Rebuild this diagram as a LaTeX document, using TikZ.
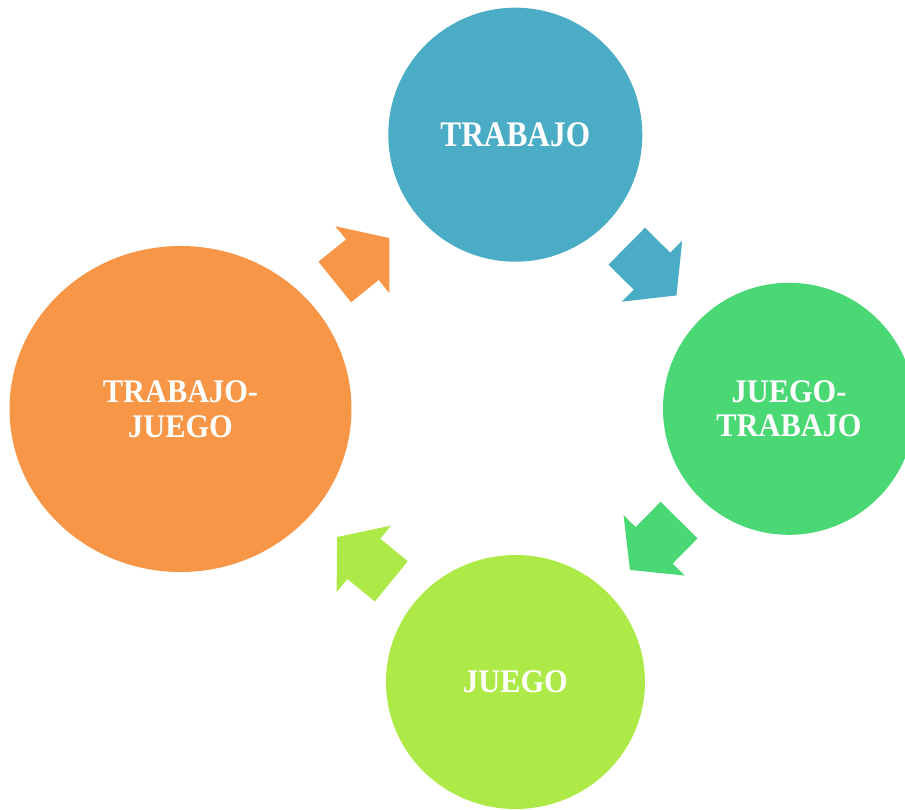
\documentclass[tikz,border=0pt]{standalone}
\usepackage{fontspec}
\usetikzlibrary{shapes.geometric}
\newfontfamily\lblfont[FakeStretch=0.92]{Liberation Serif}
\newfontfamily\lblfonttop[FakeStretch=0.87]{Liberation Serif}
\definecolor{cteal}{HTML}{4BACC6}
\definecolor{cgreen}{HTML}{4AD874}
\definecolor{clime}{HTML}{ADEA48}
\definecolor{corange}{HTML}{F79646}
\newcommand\blockarrow[4]{%
  \fill[#4, shift={(#1,#2)}, rotate=#3]
    (-35,-26) -- (0.5,-26) -- (0.5,-43) -- (35,0) -- (0.5,43) -- (0.5,26) -- (-35,26) -- cycle;}
\begin{document}
\begin{tikzpicture}[x=1pt,y=-1pt,
  bubble/.style={circle, inner sep=0pt, text=white, align=center,
    font=\lblfont\bfseries\fontsize{33}{34.5}\selectfont},
  bigbubble/.style={ellipse, inner sep=0pt, text=white, align=center,
    font=\lblfont\bfseries\fontsize{33}{34.5}\selectfont}]
\useasboundingbox (0,0) rectangle (905,810);
\node[bubble, fill=cteal, minimum size=254pt,
  font=\lblfonttop\bfseries\fontsize{36}{37}\selectfont] (trabajo) at (515.3,134.7) {TRABAJO};
\node[bubble, fill=cgreen, minimum size=252pt] (juegotrabajo) at (789,408.8) {JUEGO-\\TRABAJO};
\node[bigbubble, fill=clime, minimum width=259pt, minimum height=254pt] (juego) at (515.5,682) {JUEGO};
\node[bigbubble, fill=corange, minimum width=342pt, minimum height=326pt] (trabajojuego) at (180.5,409) {TRABAJO-\\JUEGO};
\blockarrow{362}{260}{38.9}{corange}
\blockarrow{651.6}{270.8}{-44.7}{cteal}
\blockarrow{654.5}{545}{-134.6}{cgreen}
\blockarrow{364.2}{559.2}{140.8}{clime}
\end{tikzpicture}
\end{document}
